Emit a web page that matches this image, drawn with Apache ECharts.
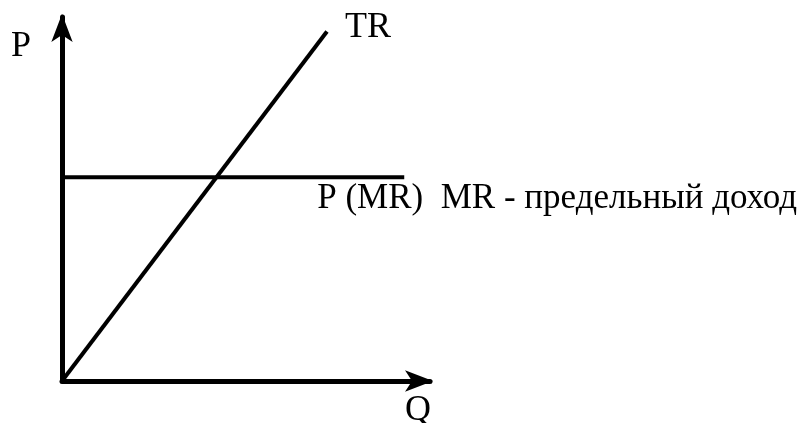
<!DOCTYPE html>
<html>
<head>
<meta charset="utf-8">
<script src="https://cdn.jsdelivr.net/npm/echarts@6/dist/echarts.min.js"></script>
<style>
  html, body { margin: 0; padding: 0; background: #fff; }
  #chart { width: 800px; height: 423px; }
</style>
</head>
<body>
<div id="chart"></div>
<script>
// TR grows linearly with Q, MR (= P) is flat
const trPoints = [[0, 0], [72, 96]];
const mrPoints = [[0, 56], [93, 56]];
const trLabel = "TR";
const mrLabel = "P (MR)  MR - предельный доход";
const yName = "P";
const xName = "Q";

const font = "Liberation Serif";

var myChart = echarts.init(document.getElementById("chart"));

const arrowAxis = {
  type: "value",
  min: 0,
  max: 100,
  axisLine: {
    show: true,
    symbol: ["none", "arrow"],
    symbolSize: [16, 28],
    symbolOffset: [0, 3],
    lineStyle: { color: "#000", width: 5 },
  },
  axisTick: { show: false },
  axisLabel: { show: false },
  splitLine: { show: false },
};

myChart.setOption({
  animation: false,
  backgroundColor: "#fff",
  grid: { left: 62, right: 370, top: 17, bottom: 42 },
  xAxis: arrowAxis,
  yAxis: arrowAxis,
  series: [
    {
      name: "TR",
      type: "line",
      data: trPoints,
      showSymbol: false,
      lineStyle: { color: "#000", width: 4 },
      endLabel: {
        show: true,
        formatter: trLabel,
        color: "#000",
        fontFamily: font,
        fontSize: 36,
        offset: [10, -4],
      },
    },
    {
      name: "MR",
      type: "line",
      data: mrPoints,
      showSymbol: false,
      lineStyle: { color: "#000", width: 4 },
      endLabel: {
        show: true,
        formatter: mrLabel,
        color: "#000",
        fontFamily: font,
        fontSize: 35,
        offset: [-95, 22],
      },
    },
  ],
  graphic: [
    {
      type: "text",
      left: 11,
      top: 29,
      style: { text: yName, fill: "#000", font: "36px '" + font + "'" },
    },
    {
      type: "text",
      left: 405,
      top: 393,
      style: { text: xName, fill: "#000", font: "36px '" + font + "'" },
    },
  ],
});
</script>
</body>
</html>
